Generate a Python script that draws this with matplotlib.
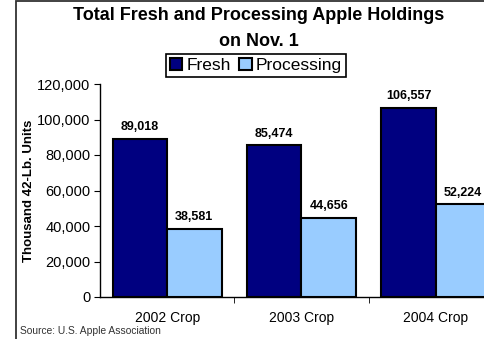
import matplotlib
matplotlib.use("Agg")
import matplotlib.pyplot as plt
from matplotlib.patches import Rectangle
from matplotlib.ticker import FuncFormatter

plt.rcParams["font.family"] = ["Liberation Sans", "DejaVu Sans"]

crops = ["2002 Crop", "2003 Crop", "2004 Crop"]
fresh = [89018, 85474, 106557]
processing = [38581, 44656, 52224]
yticks = [0, 20000, 40000, 60000, 80000, 100000, 120000]

fig = plt.figure(figsize=(4.85, 3.39), dpi=100)
ax = fig.add_axes([100 / 485, 1 - 297 / 339, 403 / 485, 213 / 339])

x = list(range(len(crops)))
w = 0.405
b1 = ax.bar(x, fresh, width=-w, align="edge", color="#000080",
            edgecolor="black", linewidth=1.5, label="Fresh")
b2 = ax.bar(x, processing, width=w, align="edge", color="#99CCFF",
            edgecolor="black", linewidth=1.5, label="Processing")

for bars, vals in ((b1, fresh), (b2, processing)):
    for r, v in zip(bars, vals):
        ax.annotate(f"{v:,}", (r.get_x() + r.get_width() / 2, v),
                    xytext=(0, 4), textcoords="offset points",
                    ha="center", va="bottom", fontsize=9, fontweight="bold")

ax.set_xlim(-0.5, 2.5)
ax.set_ylim(0, 120000)
ax.set_yticks(yticks)
ax.yaxis.set_major_formatter(FuncFormatter(lambda v, p: f"{int(v):,}"))
ax.set_xticks(x)
ax.set_xticklabels(crops)
ax.set_xticks([0.5, 1.5], minor=True)
ax.tick_params(axis="x", which="major", length=0, pad=10, labelsize=10)
ax.tick_params(axis="x", which="minor", length=4, direction="out")
ax.tick_params(axis="y", length=4, direction="out", labelsize=10.5, pad=3)

for s in ("top", "right"):
    ax.spines[s].set_visible(False)
for s in ("left", "bottom"):
    ax.spines[s].set_linewidth(1.0)

ax.set_ylabel("Thousand 42-Lb. Units", fontsize=9.5, fontweight="bold")
ax.yaxis.set_label_coords(-0.1625, 0.5)

fig.text(259 / 485, 1 - 16 / 339, "Total Fresh and Processing Apple Holdings",
         ha="center", va="center", fontsize=13, fontweight="bold")
fig.text(259 / 485, 1 - 42 / 339, "on Nov. 1",
         ha="center", va="center", fontsize=13, fontweight="bold")

leg = fig.legend(handles=[b1, b2], loc="center",
                 bbox_to_anchor=(256 / 485, 1 - 65.5 / 339), ncol=2,
                 fontsize=12.5, frameon=True, fancybox=False, framealpha=1,
                 edgecolor="black", borderpad=0.2, handlelength=0.7,
                 handleheight=0.7, handletextpad=0.25, columnspacing=0.5,
                 borderaxespad=0)
leg.get_frame().set_linewidth(1.2)

fig.text(20 / 485, 1 - 331 / 339, "Source: U.S. Apple Association",
         ha="left", va="center", fontsize=7.4, color="#333333")

fig.patches.append(Rectangle((16 / 485, -0.1), 1.2, 1.1 - 1.5 / 339,
                             transform=fig.transFigure, fill=False,
                             edgecolor="#333333", linewidth=1.3))

fig.savefig("out.png", dpi=100)
